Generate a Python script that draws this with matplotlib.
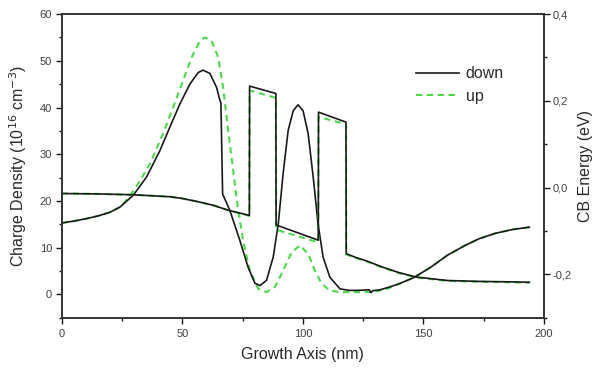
import matplotlib.pyplot as plt
import matplotlib.ticker as mticker
from matplotlib.lines import Line2D

# charge density (10^16 cm^-3), left axis
x_down = [0, 5, 10, 15, 20, 24.1, 29.6, 35.1, 40.7, 44.8, 49.0, 53.1, 56.6, 58.6, 61.4, 64.2,
          65.6, 66.0, 66.7, 69.7, 73.9, 77.3, 80.1, 82.2, 84.9, 87.7, 89.8, 91.8, 93.9, 96.0,
          98.0, 100.1, 102.2, 104.3, 106.3, 108.4, 111.2, 115.4, 119.5, 124, 127.5, 128.3,
          129, 132, 136, 140, 146, 153, 160, 167, 173, 180, 187, 194]
n_down = [15.3, 15.7, 16.2, 16.8, 17.6, 18.7, 21.2, 25.1, 30.8, 35.8, 40.8, 45.0, 47.5, 48.0,
          47.3, 44.3, 41.5, 41.0, 21.5, 18.0, 11.5, 5.8, 2.4, 1.9, 3.0, 8.0, 15.1, 25.8, 35.1,
          39.3, 40.6, 39.3, 34.4, 25.1, 15.1, 8.0, 3.7, 1.2, 0.86, 0.9, 1.0, 0.4, 0.8, 1.0,
          1.6, 2.3, 3.6, 5.8, 8.4, 10.4, 11.9, 13.1, 13.9, 14.4]

x_up = [0, 5, 10, 15, 20, 24.1, 28.2, 32, 36.5, 42.0, 46.2, 50.3, 53.8, 57.3, 59.3, 62.1,
        64.9, 66.9, 69.0, 71.1, 72.5, 75.2, 78.0, 81.5, 84.9, 88.4, 91.8, 95.3, 98.8, 102.2,
        105.0, 107.8, 111.2, 115.4, 120, 125, 130, 135, 140, 146, 153, 160, 167, 173, 180,
        187, 194]
n_up = [15.3, 15.7, 16.2, 16.8, 17.6, 18.7, 21.0, 24.0, 27.9, 34.4, 40.1, 45.8, 50.7, 54.3,
        55.0, 54.3, 50.7, 44.3, 35.1, 26.5, 20.5, 11.5, 5.1, 1.2, 0.5, 1.6, 5.1, 9.0, 10.5,
        8.7, 5.1, 2.3, 0.86, 0.5, 0.5, 0.5, 0.6, 1.2, 2.3, 3.6, 5.8, 8.4, 10.4, 11.9, 13.1,
        13.9, 14.4]

# conduction band edge (eV), right axis
x_cb = [0, 15, 30, 45, 50, 57, 63, 69, 77.8, 77.9, 88.8, 88.9, 106.4, 106.5, 117.9, 118.0,
        122, 126, 133, 140, 147, 160, 173, 185, 194]
cb_down = [-0.0135, -0.0145, -0.0165, -0.021, -0.025, -0.033, -0.041, -0.052, -0.064, 0.234,
           0.217, -0.086, -0.121, 0.174, 0.151, -0.152, -0.161, -0.168, -0.183, -0.196,
           -0.206, -0.214, -0.216, -0.217, -0.218]
cb_up = [-0.0135, -0.0145, -0.0165, -0.021, -0.025, -0.033, -0.041, -0.052, -0.065, 0.224,
         0.207, -0.097, -0.126, 0.163, 0.146, -0.154, -0.162, -0.169, -0.184, -0.197,
         -0.207, -0.215, -0.217, -0.218, -0.219]

plt.rcParams['font.family'] = ['Liberation Sans', 'DejaVu Sans']
black = '#1a1a1a'
green = '#4cd94c'
txt = '#404040'

fig = plt.figure(figsize=(5.95, 3.7), dpi=100)
ax = fig.add_axes([0.104, 0.141, 0.81, 0.821])
ax2 = ax.twinx()

dash = (0, (3, 2.2))
ax.plot(x_up, n_up, color=green, lw=1.5, linestyle=dash)
ax.plot(x_down, n_down, color=black, lw=1.2)
ax2.plot(x_cb, cb_up, color=green, lw=1.5, linestyle=dash)
ax2.plot(x_cb, cb_down, color=black, lw=1.2)

ax.set_xlim(0, 200)
ax.set_ylim(-5, 60)
ax2.set_ylim(-0.3, 0.4)

ax.xaxis.set_major_locator(mticker.MultipleLocator(50))
ax.xaxis.set_minor_locator(mticker.MultipleLocator(25))
ax.yaxis.set_major_locator(mticker.MultipleLocator(10))
ax.yaxis.set_minor_locator(mticker.MultipleLocator(5))
ax2.yaxis.set_major_locator(mticker.FixedLocator([-0.2, 0.0, 0.2, 0.4]))
ax2.yaxis.set_minor_locator(mticker.FixedLocator([-0.3, -0.1, 0.1, 0.3]))
ax2.yaxis.set_major_formatter(mticker.FuncFormatter(lambda v, p: f'{v:.1f}'.replace('.', ',')))

for a in (ax, ax2):
    a.tick_params(which='major', direction='out', length=4, width=1, colors=black,
                  labelcolor=txt, labelsize=8)
    a.tick_params(which='minor', direction='out', length=2.5, width=1, colors=black)
    for s in a.spines.values():
        s.set_color('#333333')
        s.set_linewidth(1.2)
ax.tick_params(axis='x', pad=4)
ax.tick_params(axis='y', pad=3)
ax2.tick_params(axis='y', pad=2)

ax.set_xlabel('Growth Axis (nm)', fontsize=11.5, color='#2a2a2a', labelpad=6)
ax.set_ylabel('Charge Density (10$^{16}$ cm$^{-3}$)', fontsize=11.5, color='#2a2a2a', labelpad=8)
ax2.set_ylabel('CB Energy (eV)', fontsize=11.5, color='#2a2a2a', labelpad=5)

handles = [Line2D([], [], color=black, lw=1.2),
           Line2D([], [], color=green, lw=1.5, linestyle=dash)]
ax.legend(handles, ['down', 'up'], loc='upper left', bbox_to_anchor=(0.705, 0.875),
          frameon=False, fontsize=11.5, handlelength=2.7, handletextpad=0.4,
          labelspacing=0.45, labelcolor='#2a2a2a')

fig.savefig('out.png', dpi=100)
